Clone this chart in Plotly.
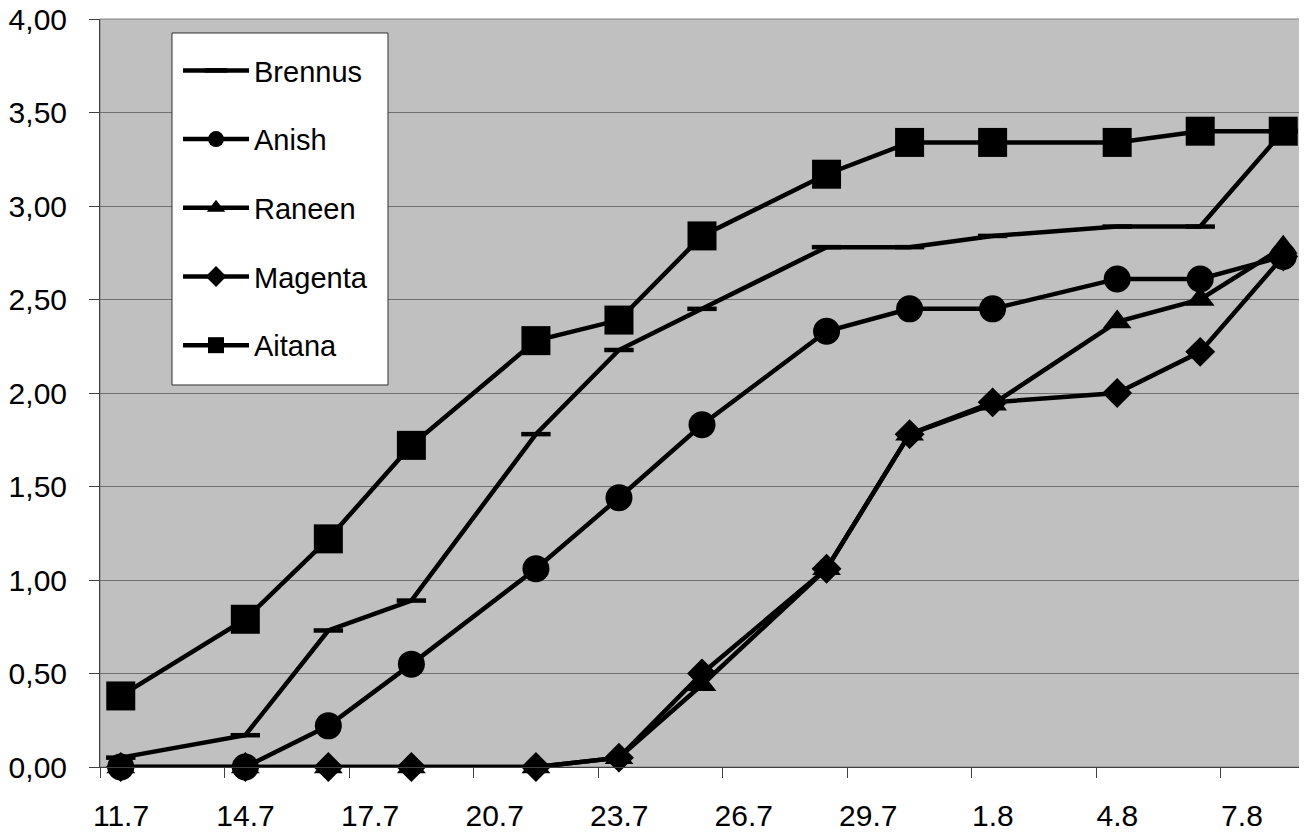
import pandas as pd
import plotly.graph_objects as go

# ---- data ----
dates = ["11.7", "14.7", "16.7", "18.7", "21.7", "23.7", "25.7",
         "28.7", "30.7", "1.8", "4.8", "6.8", "8.8"]
brennus = [0.05, 0.17, 0.73, 0.89, 1.78, 2.23, 2.45, 2.78, 2.78, 2.84, 2.89, 2.89, 3.40]
anish   = [0.00, 0.00, 0.22, 0.55, 1.06, 1.44, 1.83, 2.33, 2.45, 2.45, 2.61, 2.61, 2.73]
raneen  = [0.00, 0.00, 0.00, 0.00, 0.00, 0.05, 0.44, 1.06, 1.78, 1.94, 2.38, 2.50, 2.78]
magenta = [0.00, 0.00, 0.00, 0.00, 0.00, 0.05, 0.50, 1.06, 1.78, 1.95, 2.00, 2.22, 2.73]
aitana  = [0.38, 0.79, 1.22, 1.72, 2.28, 2.39, 2.84, 3.17, 3.34, 3.34, 3.34, 3.40, 3.40]
tick_labels = ["11.7", "14.7", "17.7", "20.7", "23.7", "26.7", "29.7", "1.8", "4.8", "7.8"]
year = 2009

def to_dt(lbl):
    return pd.to_datetime(f"{lbl}.{year}", format="%d.%m.%Y")

x = [to_dt(d) for d in dates]
half = pd.Timedelta(hours=12)
tick_pos = [to_dt(t) - half for t in tick_labels]
x_range = [x[0] - half, x[-1] + half]

series = [
    ("Brennus", brennus, dict(symbol="line-ew", size=21, line=dict(width=4.5, color="black"))),
    ("Anish", anish, dict(symbol="circle", size=27, color="black")),
    ("Raneen", raneen, dict(symbol="triangle-up", size=25, color="black")),
    ("Magenta", magenta, dict(symbol="diamond", size=23, color="black")),
    ("Aitana", aitana, dict(symbol="square", size=29, color="black")),
]

fig = go.Figure()
for i, (name, vals, mk) in enumerate(series):
    fig.add_trace(go.Scatter(
        x=x, y=vals, name=name, mode="lines+markers",
        line=dict(color="black", width=4.5),
        marker=mk, cliponaxis=False, legendgroup=f"g{i}",
    ))

font = "Liberation Sans, Arial, sans-serif"
fig.update_layout(
    width=1299, height=824,
    margin=dict(l=92, r=3, t=11, b=65),
    paper_bgcolor="white", plot_bgcolor="#C0C0C0",
    separators=", ",
    font=dict(family=font, color="black", size=30),
    showlegend=True,
    legend=dict(
        x=0.0648, y=0.9652, xanchor="left", yanchor="top",
        bgcolor="rgba(0,0,0,0)", borderwidth=0,
        font=dict(size=29, family=font), tracegroupgap=28,
        traceorder="grouped", itemwidth=66,
    ),
    xaxis=dict(
        type="date", range=x_range, tickmode="array", tickvals=tick_pos,
        ticktext=tick_labels, ticks="outside", ticklen=10, tickcolor="#404040",
        showgrid=False, showline=True, linecolor="#404040", linewidth=1,
        ticklabelshift=21, ticklabelstandoff=12, zeroline=False,
        tickfont=dict(size=30), ticklabeloverflow="allow", automargin=False,
    ),
    yaxis=dict(
        range=[0, 4], dtick=0.5, tickformat=".2f", ticks="outside", ticklen=10,
        tickcolor="#404040", showgrid=True, gridcolor="#707070", gridwidth=1,
        showline=True, linecolor="#404040", linewidth=1, zeroline=False,
        ticklabelstandoff=16, tickfont=dict(size=30), ticklabeloverflow="allow",
        automargin=False,
    ),
    shapes=[
        dict(type="rect", xref="paper", yref="paper", x0=0, y0=0, x1=1, y1=1,
             line=dict(color="#808080", width=1), layer="below"),
        dict(type="rect", xref="paper", yref="paper", x0=0.0598, y0=0.5107,
             x1=0.2392, y1=0.9813, fillcolor="white",
             line=dict(color="#303030", width=1), layer="above"),
    ],
)

fig.write_html("out.html")
